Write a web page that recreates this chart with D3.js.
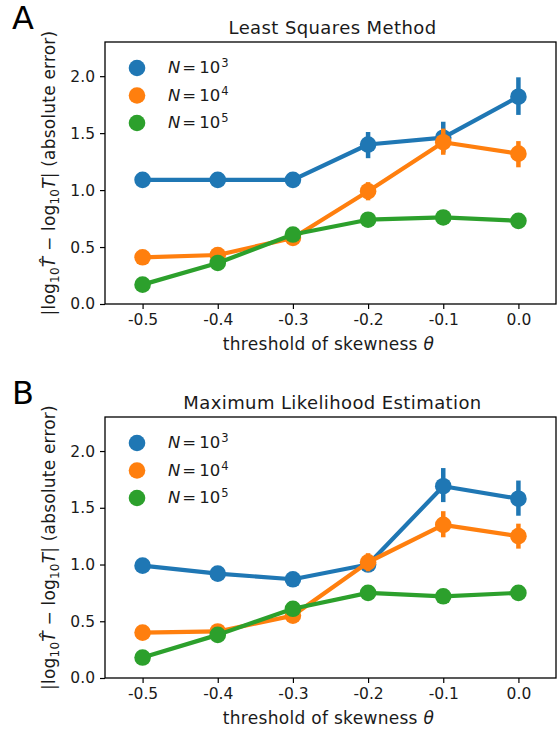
<!DOCTYPE html>
<html>
<head>
<meta charset="utf-8">
<script src="https://cdn.jsdelivr.net/npm/d3@7"></script>
<style>
  body { margin: 0; background: #fff; }
  svg { display: block; font-family: "DejaVu Sans", sans-serif; }
</style>
</head>
<body>
<div id="chart"></div>
<script>
// x categories (threshold of skewness)
const categories = ["-0.5", "-0.4", "-0.3", "-0.2", "-0.1", "0.0"];
const exponents = ["3", "4", "5"];
const colors = ["#1f77b4", "#ff7f0e", "#2ca02c"];
const yTicks = [0.0, 0.5, 1.0, 1.5, 2.0];

// Panel A: least squares
const lsqN3 = [1.09, 1.09, 1.09, 1.40, 1.46, 1.82];
const lsqN3Lo = [1.06, 1.06, 1.06, 1.28, 1.33, 1.66];
const lsqN3Hi = [1.12, 1.12, 1.12, 1.51, 1.60, 1.99];
const lsqN4 = [0.41, 0.43, 0.58, 0.99, 1.42, 1.32];
const lsqN4Lo = [0.38, 0.40, 0.55, 0.91, 1.31, 1.20];
const lsqN4Hi = [0.44, 0.46, 0.61, 1.07, 1.54, 1.43];
const lsqN5 = [0.17, 0.36, 0.61, 0.74, 0.76, 0.73];
const lsqN5Lo = [0.15, 0.34, 0.59, 0.72, 0.74, 0.71];
const lsqN5Hi = [0.19, 0.38, 0.63, 0.76, 0.78, 0.75];

// Panel B: maximum likelihood
const mleN3 = [0.99, 0.92, 0.87, 1.00, 1.69, 1.58];
const mleN3Lo = [0.96, 0.89, 0.84, 0.96, 1.55, 1.43];
const mleN3Hi = [1.02, 0.95, 0.90, 1.05, 1.85, 1.74];
const mleN4 = [0.40, 0.41, 0.55, 1.02, 1.35, 1.25];
const mleN4Lo = [0.38, 0.39, 0.52, 0.94, 1.24, 1.14];
const mleN4Hi = [0.42, 0.43, 0.58, 1.10, 1.47, 1.36];
const mleN5 = [0.18, 0.38, 0.61, 0.75, 0.72, 0.75];
const mleN5Lo = [0.16, 0.36, 0.59, 0.73, 0.70, 0.73];
const mleN5Hi = [0.20, 0.40, 0.63, 0.77, 0.74, 0.77];

const width = 559, height = 735;
const svg = d3.select('#chart').append('svg')
    .attr('width', width)
    .attr('height', height);

function drawPanel(opts) {
    const left = 105, right = 556;
    const { top, bottom, letter, title, series } = opts;

    const x = d3.scaleLinear().domain([-0.5, categories.length - 0.5]).range([left, right]);
    const y = d3.scaleLinear().domain([0, 2.3]).range([bottom, top]);

    const g = svg.append('g');

    // panel letter
    g.append('text')
        .attr('x', 12).attr('y', top - 13)
        .attr('font-size', 32)
        .attr('fill', '#000')
        .text(letter);

    // title
    g.append('text')
        .attr('x', (left + right) / 2 + 2).attr('y', top - 8)
        .attr('text-anchor', 'middle')
        .attr('font-size', 18)
        .attr('letter-spacing', 0.4)
        .attr('fill', '#1a1a1a')
        .text(title);

    // axes
    const xAxis = d3.axisBottom(x)
        .tickValues(d3.range(categories.length))
        .tickFormat(i => categories[i])
        .tickSize(5).tickPadding(5);
    const yAxis = d3.axisLeft(y)
        .tickValues(yTicks)
        .tickFormat(d3.format('.1f'))
        .tickSize(5).tickPadding(5);

    const gx = g.append('g').attr('transform', `translate(0,${bottom})`).call(xAxis);
    const gy = g.append('g').attr('transform', `translate(${left},0)`).call(yAxis);
    [gx, gy].forEach(a => {
        a.select('.domain').remove();
        a.selectAll('.tick line').attr('stroke', '#000').attr('stroke-width', 1.2);
        a.selectAll('.tick text').attr('font-size', 15.5).attr('fill', '#1a1a1a')
            .attr('font-family', '"DejaVu Sans", sans-serif');
    });

    // x label
    const xl = g.append('text')
        .attr('x', (left + right) / 2 - 2).attr('y', bottom + 46)
        .attr('text-anchor', 'middle')
        .attr('font-size', 17)
        .attr('letter-spacing', 0.3)
        .attr('fill', '#1a1a1a');
    xl.append('tspan').text('threshold of skewness ');
    xl.append('tspan').attr('font-style', 'italic').text('θ');

    // y label
    const yl = g.append('text')
        .attr('transform', `translate(55,${(top + bottom) / 2}) rotate(-90)`)
        .attr('text-anchor', 'middle')
        .attr('font-size', 17)
        .attr('letter-spacing', 0.2)
        .attr('fill', '#1a1a1a');
    yl.append('tspan').text('|log');
    yl.append('tspan').attr('font-size', 12).attr('dy', 3.5).text('10');
    yl.append('tspan').attr('dy', -3.5).attr('font-style', 'italic').text('T\u0302');
    yl.append('tspan').text(' \u2212 log');
    yl.append('tspan').attr('font-size', 12).attr('dy', 3.5).text('10');
    yl.append('tspan').attr('dy', -3.5).attr('font-style', 'italic').text('T');
    yl.append('tspan').text('| (absolute error)');

    // series
    const line = d3.line().x((d, i) => x(i)).y(d => y(d));
    series.forEach((s, k) => {
        const sg = g.append('g');
        sg.append('path')
            .datum(s.mean)
            .attr('d', line)
            .attr('fill', 'none')
            .attr('stroke', colors[k])
            .attr('stroke-width', 4.2)
            .attr('stroke-linejoin', 'round');
        sg.selectAll('line.err')
            .data(s.mean)
            .enter().append('line')
            .attr('class', 'err')
            .attr('x1', (d, i) => x(i)).attr('x2', (d, i) => x(i))
            .attr('y1', (d, i) => y(s.lo[i])).attr('y2', (d, i) => y(s.hi[i]))
            .attr('stroke', colors[k])
            .attr('stroke-width', 4.5);
        sg.selectAll('circle')
            .data(s.mean)
            .enter().append('circle')
            .attr('cx', (d, i) => x(i))
            .attr('cy', d => y(d))
            .attr('r', 8.3)
            .attr('fill', colors[k]);
    });

    // frame
    g.append('rect')
        .attr('x', left).attr('y', top)
        .attr('width', right - left).attr('height', bottom - top)
        .attr('fill', 'none')
        .attr('stroke', '#000')
        .attr('stroke-width', 1.3);

    // legend
    exponents.forEach((e, k) => {
        const ly = top + 26 + k * 27.5;
        g.append('circle')
            .attr('cx', 137).attr('cy', ly)
            .attr('r', 8.3)
            .attr('fill', colors[k]);
        const t = g.append('text')
            .attr('x', 168).attr('y', ly + 5)
            .attr('font-size', 16.5)
            .attr('fill', '#1a1a1a');
        t.append('tspan').attr('font-style', 'italic').text('N');
        t.append('tspan').attr('dx', 2).text('=');
        t.append('tspan').attr('dx', 3).text('10');
        t.append('tspan').attr('font-size', 11.5).attr('dy', -6).attr('dx', 1).text(e);
    });
}

drawPanel({
    top: 42, bottom: 304, letter: 'A', title: 'Least Squares Method',
    series: [
        { mean: lsqN3, lo: lsqN3Lo, hi: lsqN3Hi },
        { mean: lsqN4, lo: lsqN4Lo, hi: lsqN4Hi },
        { mean: lsqN5, lo: lsqN5Lo, hi: lsqN5Hi }
    ]
});

drawPanel({
    top: 417, bottom: 678, letter: 'B', title: 'Maximum Likelihood Estimation',
    series: [
        { mean: mleN3, lo: mleN3Lo, hi: mleN3Hi },
        { mean: mleN4, lo: mleN4Lo, hi: mleN4Hi },
        { mean: mleN5, lo: mleN5Lo, hi: mleN5Hi }
    ]
});
</script>
</body>
</html>
